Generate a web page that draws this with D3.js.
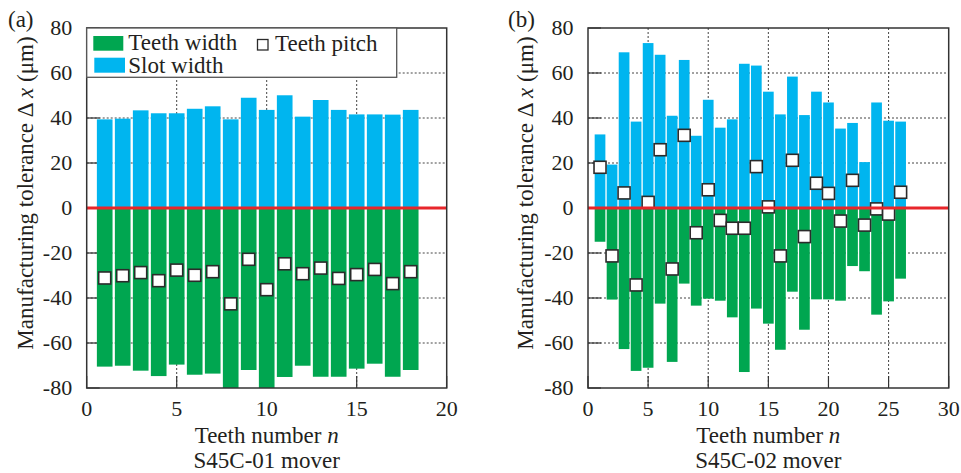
<!DOCTYPE html>
<html>
<head>
<meta charset="utf-8">
<script src="https://cdn.jsdelivr.net/npm/d3@7/dist/d3.min.js"></script>
<style>
  body { margin: 0; background: #fff; }
  svg { display: block; }
  text { font-family: "Liberation Serif", "Times New Roman", serif; fill: #231f20; }
</style>
</head>
<body>
<svg id="chart" width="961" height="473"></svg>
<script>
// ---- S45C-01 mover (18 teeth) ----
const teethA = [1, 2, 3, 4, 5, 6, 7, 8, 9, 10, 11, 12, 13, 14, 15, 16, 17, 18];
const slotA  = [39.4, 39.7, 43.4, 42.1, 42.1, 44.1, 45.2, 39.4, 49.0, 43.6, 50.1, 40.6, 48.0, 43.6, 41.6, 41.6, 41.5, 43.6];
const toothA = [-70.5, -70.1, -72.3, -74.7, -69.6, -74.1, -73.6, -81, -72.0, -81, -75.1, -70.1, -75.0, -75.0, -71.4, -69.2, -75.0, -72.0];
const pitchA = [-31.1, -30.1, -28.7, -32.3, -27.6, -29.9, -28.3, -42.6, -22.8, -36.3, -24.8, -29.2, -26.7, -31.3, -29.6, -27.3, -33.6, -28.3];

// ---- S45C-02 mover (26 teeth) ----
const teethB = [1, 2, 3, 4, 5, 6, 7, 8, 9, 10, 11, 12, 13, 14, 15, 16, 17, 18, 19, 20, 21, 22, 23, 24, 25, 26];
const slotB  = [32.7, 19.3, 69.2, 38.4, 73.3, 68.1, 41.0, 65.8, 32.1, 48.1, 35.7, 39.4, 64.1, 63.3, 51.7, 41.6, 58.4, 41.3, 51.7, 46.9, 35.3, 37.8, 20.4, 46.9, 38.8, 38.4];
const toothB = [-15.0, -40.7, -62.7, -72.4, -71.0, -42.5, -68.4, -33.6, -43.4, -40.3, -41.2, -48.6, -72.9, -44.7, -51.4, -63.0, -37.2, -54.1, -40.6, -40.6, -41.2, -25.8, -28.1, -47.4, -41.5, -31.4];
const pitchB = [18.1, -21.3, 6.7, -34.2, 2.5, 25.9, -27.1, 32.3, -11.0, 8.1, -5.5, -9.0, -9.0, 18.4, 0.5, -21.3, 21.2, -12.7, 11.0, 6.5, -5.8, 12.3, -7.6, -0.4, -2.7, 7.0];

// ---- axes ----
const yTicks  = [-80, -60, -40, -20, 0, 20, 40, 60, 80];
const xTicksA = [0, 5, 10, 15, 20];
const xTicksB = [0, 5, 10, 15, 20, 25, 30];

const yLabel = "Manufacturing tolerance \u0394 ";
const xLabel = "Teeth number ";
const legendLabels = ["Teeth width", "Slot width", "Teeth pitch"];

const C_TOOTH = "#00a650";
const C_SLOT  = "#00b5ef";
const C_ZERO  = "#e8262b";
const C_FRAME = "#333333";

const svg = d3.select("#chart");

function panel(opt) {
  const g = svg.append("g");
  const x = d3.scaleLinear().domain([0, opt.xMax]).range([opt.left, opt.right]);
  const y = d3.scaleLinear().domain([-80, 80]).range([opt.bottom, opt.top]);
  const clipId = "clip-" + opt.tag;

  g.append("clipPath").attr("id", clipId)
    .append("rect")
    .attr("x", opt.left).attr("y", opt.top)
    .attr("width", opt.right - opt.left).attr("height", opt.bottom - opt.top);

  // dotted grid
  const grid = g.append("g").attr("stroke", "#444").attr("stroke-width", 1)
    .attr("stroke-dasharray", "2,2").attr("fill", "none");
  opt.xTicks.slice(1, -1).forEach(t => {
    grid.append("line").attr("x1", x(t)).attr("x2", x(t))
      .attr("y1", opt.top).attr("y2", opt.bottom);
  });
  yTicks.slice(1, -1).forEach(t => {
    grid.append("line").attr("x1", opt.left).attr("x2", opt.right)
      .attr("y1", y(t)).attr("y2", y(t));
  });

  // inward tick marks
  const tk = g.append("g").attr("stroke", C_FRAME).attr("stroke-width", 1.2);
  yTicks.forEach(t => {
    tk.append("line").attr("x1", opt.left).attr("x2", opt.left + 13)
      .attr("y1", y(t)).attr("y2", y(t));
  });
  opt.xTicks.forEach(t => {
    tk.append("line").attr("x1", x(t)).attr("x2", x(t))
      .attr("y1", opt.bottom).attr("y2", opt.bottom - 12);
  });

  // bars
  const bw = (x(1) - x(0)) * opt.barW;
  const bars = g.append("g").attr("clip-path", `url(#${clipId})`);
  bars.selectAll("rect.slot").data(opt.teeth).join("rect")
    .attr("class", "slot")
    .attr("x", (d) => x(d) - bw / 2).attr("width", bw)
    .attr("y", (d, i) => y(opt.slot[i]))
    .attr("height", (d, i) => y(0) - y(opt.slot[i]))
    .attr("fill", C_SLOT);
  bars.selectAll("rect.tooth").data(opt.teeth).join("rect")
    .attr("class", "tooth")
    .attr("x", (d) => x(d) - bw / 2).attr("width", bw)
    .attr("y", y(0))
    .attr("height", (d, i) => y(opt.tooth[i]) - y(0))
    .attr("fill", C_TOOTH);

  // pitch markers
  g.append("g").selectAll("rect").data(opt.teeth).join("rect")
    .attr("x", d => x(d) - 6).attr("width", 12)
    .attr("y", (d, i) => y(opt.pitch[i]) - 6).attr("height", 12)
    .attr("fill", "#fff").attr("stroke", "#2b2b2b").attr("stroke-width", 1.6);

  // zero line
  g.append("line").attr("x1", opt.left).attr("x2", opt.right)
    .attr("y1", y(0)).attr("y2", y(0))
    .attr("stroke", C_ZERO).attr("stroke-width", 3);

  // frame
  g.append("rect").attr("x", opt.left).attr("y", opt.top)
    .attr("width", opt.right - opt.left).attr("height", opt.bottom - opt.top)
    .attr("fill", "none").attr("stroke", C_FRAME).attr("stroke-width", 1.5);

  // tick labels
  g.append("g").selectAll("text").data(yTicks).join("text")
    .attr("x", opt.left - 14.5).attr("y", d => y(d)).attr("dy", "0.34em")
    .attr("text-anchor", "end").attr("font-size", 22)
    .text(d => d);
  g.append("g").selectAll("text").data(opt.xTicks).join("text")
    .attr("x", d => x(d)).attr("y", 416)
    .attr("text-anchor", "middle").attr("font-size", 22)
    .text(d => d);

  // axis titles
  const cx = (opt.left + opt.right) / 2;
  const xt = g.append("text").attr("x", cx).attr("y", 443)
    .attr("text-anchor", "middle").attr("font-size", 23);
  xt.append("tspan").text(xLabel);
  xt.append("tspan").attr("font-style", "italic").text("n");
  g.append("text").attr("x", cx).attr("y", 468)
    .attr("text-anchor", "middle").attr("font-size", 23).text(opt.caption);

  const yt = g.append("text")
    .attr("transform", `translate(${opt.yLabelX},193) rotate(-90)`)
    .attr("text-anchor", "middle").attr("font-size", 23);
  yt.append("tspan").text(yLabel);
  yt.append("tspan").attr("font-style", "italic").text("x");
  yt.append("tspan").text(" (\u03bcm)");

  g.append("text").attr("x", opt.tagX).attr("y", 27).attr("font-size", 23).text(opt.tagText);

  return { g, x, y };
}

const pa = panel({
  tag: "a", tagText: "(a)", tagX: 8, yLabelX: 33,
  left: 86.7, right: 446.7, top: 28, bottom: 388, xMax: 20,
  xTicks: xTicksA, barW: 0.87,
  teeth: teethA, slot: slotA, tooth: toothA, pitch: pitchA,
  caption: "S45C-01 mover"
});

// legend box in panel (a)
const lg = pa.g.append("g");
lg.append("rect").attr("x", 86.7).attr("y", 28).attr("width", 310).attr("height", 49.3)
  .attr("fill", "#fff").attr("stroke", "#555").attr("stroke-width", 1.3);
lg.append("rect").attr("x", 93.3).attr("y", 36).attr("width", 30).attr("height", 14.7).attr("fill", C_TOOTH);
lg.append("text").attr("x", 128.3).attr("y", 50).attr("font-size", 23).text(legendLabels[0]);
lg.append("rect").attr("x", 94.3).attr("y", 57.7).attr("width", 30.7).attr("height", 15).attr("fill", C_SLOT);
lg.append("text").attr("x", 128.3).attr("y", 72.7).attr("font-size", 23).text(legendLabels[1]);
lg.append("rect").attr("x", 257.5).attr("y", 39.5).attr("width", 10.5).attr("height", 10.5)
  .attr("fill", "#fff").attr("stroke", "#2b2b2b").attr("stroke-width", 1.3);
lg.append("text").attr("x", 275).attr("y", 50.5).attr("font-size", 23).text(legendLabels[2]);

panel({
  tag: "b", tagText: "(b)", tagX: 508, yLabelX: 533,
  left: 588, right: 948.7, top: 28, bottom: 388, xMax: 30,
  xTicks: xTicksB, barW: 0.89,
  teeth: teethB, slot: slotB, tooth: toothB, pitch: pitchB,
  caption: "S45C-02 mover"
});
</script>
</body>
</html>
